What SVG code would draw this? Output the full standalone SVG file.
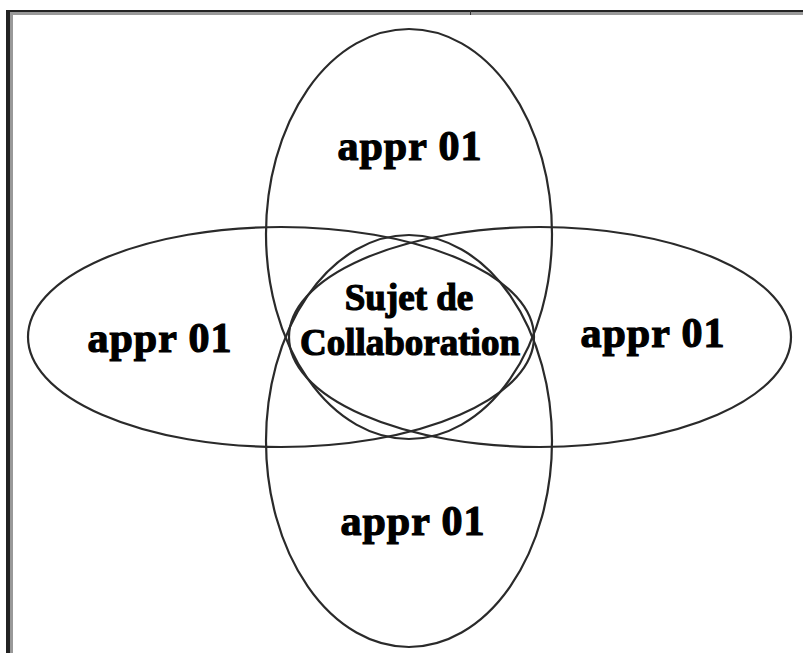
<svg xmlns="http://www.w3.org/2000/svg" width="803" height="653" viewBox="0 0 803 653">
<style>
.shape{fill:none;stroke:#2a2a2a;stroke-width:2.2}
.lbl{font-family:"Liberation Serif","Times New Roman",serif;font-weight:bold;fill:#000;stroke:#000;stroke-width:1.2;text-anchor:middle}
.big{font-size:42px;letter-spacing:1px}
.mid{font-size:37px}
</style>
<rect x="0" y="0" width="803" height="653" fill="#fff"/>
<g id="frame">
<line x1="6" y1="11" x2="803" y2="11" stroke="#222" stroke-width="2"/>
<line x1="10" y1="13.5" x2="803" y2="13.5" stroke="#999" stroke-width="3"/>
<line x1="8" y1="10" x2="8" y2="653" stroke="#222" stroke-width="4"/>
<line x1="11.5" y1="12" x2="11.5" y2="653" stroke="#999" stroke-width="3"/>
<line x1="470.5" y1="10" x2="470.5" y2="15" stroke="#333" stroke-width="1"/>
</g>
<g id="top">
<ellipse class="shape" cx="409" cy="234" rx="143" ry="205"/>
<text class="lbl big" x="410" y="160">appr 01</text>
</g>
<g id="bottom">
<ellipse class="shape" cx="409" cy="441" rx="143" ry="206"/>
<text class="lbl big" x="413" y="535">appr 01</text>
</g>
<g id="left">
<ellipse class="shape" cx="281" cy="337" rx="253" ry="110"/>
<text class="lbl big" x="160" y="352">appr 01</text>
</g>
<g id="right">
<ellipse class="shape" cx="540" cy="337" rx="251" ry="110"/>
<text class="lbl big" x="653" y="347">appr 01</text>
</g>
<g id="center">
<text class="lbl mid" x="409" y="310">Sujet de</text>
<text class="lbl mid" x="410" y="355">Collaboration</text>
</g>
</svg>
